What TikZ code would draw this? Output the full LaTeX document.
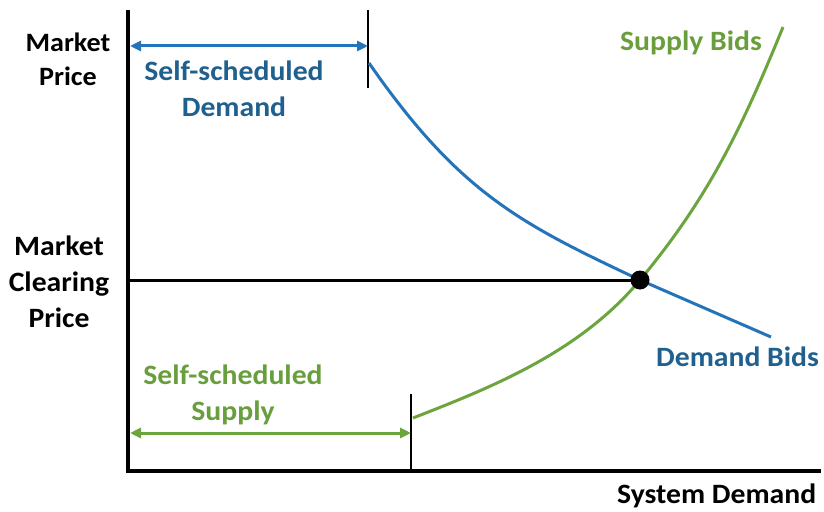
\documentclass[tikz,border=0pt]{standalone}
\usepackage{fontspec}
\setmainfont{Carlito}[FakeStretch=1.06]
\usetikzlibrary{arrows.meta}
\definecolor{curveblue}{RGB}{36,116,188}
\definecolor{textblue}{RGB}{31,96,143}
\definecolor{curvegreen}{RGB}{108,164,62}
\definecolor{textgreen}{RGB}{104,158,60}
\tikzset{
  lbl/.style={inner sep=0pt, font=\fontsize{28}{36}\selectfont\bfseries, align=center},
  lblsmall/.style={inner sep=0pt, font=\fontsize{26.5}{34}\selectfont\bfseries, align=center},
  axisline/.style={line width=4pt, black},
  tickline/.style={line width=1.3pt, black},
  dimarrow/.style={line width=3pt, {Triangle[length=11pt,width=10pt]}-{Triangle[length=11pt,width=10pt]}},
  curve/.style={line width=3pt},
}
\begin{document}
\begin{tikzpicture}[x=1pt,y=-1pt]
\useasboundingbox (0,0) rectangle (824,511);
% axes
\coordinate (ytop) at (128,10);
\coordinate (orig) at (128,471);
\coordinate (xend) at (821,471);
\draw[axisline] (ytop) -- (orig) -- (xend);
% tick lines
\coordinate (dtickT) at (368,10);
\coordinate (dtickB) at (368,88);
\coordinate (stickT) at (411,394);
\coordinate (stickB) at (411,471);
\draw[tickline] (dtickT) -- (dtickB);
\draw[tickline] (stickT) -- (stickB);
% dimension arrows
\coordinate (dA) at (130,46);
\coordinate (dB) at (368,46);
\draw[dimarrow, curveblue] (dA) -- (dB);
\coordinate (sA) at (130,433);
\coordinate (sB) at (411,433);
\draw[dimarrow, curvegreen] (sA) -- (sB);
% clearing price
\coordinate (eq) at (640,280);
\draw[line width=3pt] (orig |- eq) -- (eq);
% demand curve
\coordinate (d0) at (369,63);
\coordinate (d1) at (459,192.6);
\coordinate (d2) at (520,223.6);
\coordinate (dend) at (771,337);
\draw[curve, curveblue] (d0) .. controls (d1) and (d2) .. (eq) -- (dend);
% supply curve
\coordinate (s0) at (413,418);
\coordinate (s1) at (493,386.8);
\coordinate (s2) at (580,352);
\coordinate (s3) at (710,196);
\coordinate (s4) at (743,125);
\coordinate (send) at (783,27);
\draw[curve, curvegreen] (s0) .. controls (s1) and (s2) .. (eq) .. controls (s3) and (s4) .. (send);
\fill (eq) circle (9.5);
% labels
\node[lblsmall, anchor=north] (mp) at (68,33) {Market\\Price};
\node[lbl, anchor=north, textblue] (sdl) at (234,61) {Self-scheduled\\Demand};
\node[lbl, anchor=north] (mcp) at (59,236) {Market\\Clearing\\Price};
\node[lbl, anchor=north, textgreen] (ssl) at (233,365) {Self-scheduled\\Supply};
\node[lbl, anchor=base west, textgreen] (sbid) at (620,51) {Supply Bids};
\node[lbl, anchor=base west, textblue] (dbid) at (656,366) {Demand Bids};
\node[lbl, anchor=base west] (sysd) at (617,503) {System Demand};
\end{tikzpicture}
\end{document}
